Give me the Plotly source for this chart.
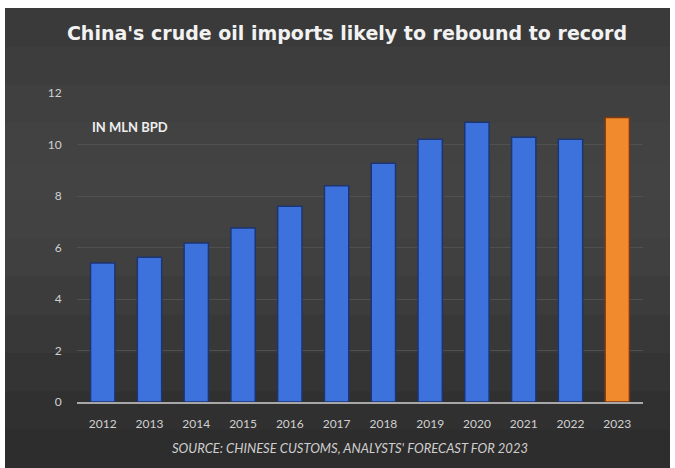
import plotly.graph_objects as go

years = ["2012", "2013", "2014", "2015", "2016", "2017", "2018", "2019", "2020", "2021", "2022", "2023"]
imports_mbpd = [5.4, 5.62, 6.17, 6.76, 7.6, 8.4, 9.27, 10.2, 10.86, 10.28, 10.2, 11.05]
bar_colors = ["#3d72dc"] * 11 + ["#f08a2c"]
edge_colors = ["#1d3570"] * 11 + ["#7a3a10"]

W, H = 675, 468
L, R, T, B = 77, 32, 93, 66
pw, ph = W - L - R, H - T - B

def px_x(p):
    return (p - L) / pw

def px_y(p):
    return (H - B - p) / ph

fig = go.Figure()
fig.add_trace(go.Bar(
    x=years, y=imports_mbpd,
    marker=dict(color=bar_colors, line=dict(color=edge_colors, width=1.5)),
    width=0.52,
))

shapes = []
bands = ["#3a3a3a", "#3d3d3d", "#404040", "#424242", "#434343", "#424242",
         "#404040", "#3c3c3c", "#383838", "#343434", "#303030", "#2d2d2d"]
top, bottom = 8, 468
n = len(bands)
for i, c in enumerate(bands):
    y0 = top + (bottom - top) * i / n
    y1 = top + (bottom - top) * (i + 1) / n + 1
    shapes.append(dict(type="rect", xref="paper", yref="paper",
                       x0=px_x(5), x1=px_x(670), y0=px_y(min(y1, bottom)), y1=px_y(y0),
                       fillcolor=c, line=dict(width=0), layer="below"))

fig.update_layout(
    width=W, height=H,
    margin=dict(l=L, r=R, t=T, b=B),
    paper_bgcolor="white",
    plot_bgcolor="rgba(0,0,0,0)",
    shapes=shapes,
    showlegend=False,
    bargap=0.48,
    title=dict(
        text="<b>China's crude oil imports likely to rebound to record</b>",
        x=347 / W, xanchor="center", y=1 - 33 / H, yanchor="middle",
        font=dict(family="DejaVu Sans", size=19, color="#f2f2f2"),
    ),
    xaxis=dict(
        showgrid=False, showline=True, linecolor="#a8a8a8", linewidth=2,
        ticks="outside", ticklen=10, tickcolor="rgba(0,0,0,0)",
        tickfont=dict(family="Lato", size=12, color="#d0d0d0"),
        range=[-0.55, 11.55],
    ),
    yaxis=dict(
        range=[0, 12], dtick=2, showgrid=True, gridcolor="#505050", gridwidth=1,
        zeroline=False, showline=False,
        ticks="outside", ticklen=12, tickcolor="rgba(0,0,0,0)",
        tickfont=dict(family="Lato", size=12, color="#d0d0d0"),
    ),
    annotations=[
        dict(text="<b>IN MLN BPD</b>", xref="paper", yref="paper",
             x=px_x(90), y=px_y(127), xanchor="left", yanchor="middle",
             showarrow=False, font=dict(family="Lato", size=13, color="#eeeeee")),
        dict(text="<i>SOURCE: CHINESE CUSTOMS, ANALYSTS' FORECAST FOR 2023</i>",
             xref="paper", yref="paper", x=px_x(350), y=px_y(448),
             xanchor="center", yanchor="middle", showarrow=False,
             font=dict(family="Lato", size=13, color="#cfcfcf")),
    ],
)

fig.write_html("out.html")
